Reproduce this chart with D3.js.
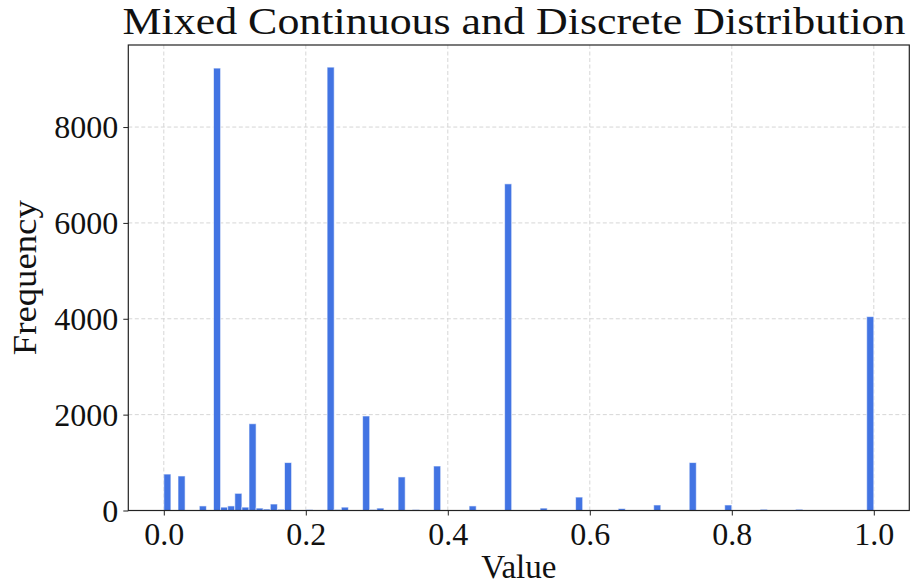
<!DOCTYPE html>
<html>
<head>
<meta charset="utf-8">
<script src="https://cdn.jsdelivr.net/npm/d3@7"></script>
<style>
  body { margin: 0; background: #fff; }
  svg { display: block; }
  text { font-family: "Liberation Serif", "DejaVu Serif", serif; fill: #111; }
</style>
</head>
<body>
<svg id="vis" width="917" height="585"></svg>
<script>
// histogram bins (lower edge, width 0.01), only the non-empty ones
var binWidth = 0.01;
var binStarts = [0.00, 0.02, 0.05, 0.07, 0.08, 0.09, 0.10, 0.11, 0.12, 0.13,
                 0.14, 0.15, 0.16, 0.17, 0.20, 0.23, 0.24, 0.25, 0.28, 0.29,
                 0.30, 0.33, 0.35, 0.38, 0.43, 0.48, 0.53, 0.58, 0.64, 0.69,
                 0.74, 0.79, 0.84, 0.89, 0.99];
var counts = [760, 720, 95, 9230, 70, 95, 358, 70, 1810, 50,
              30, 135, 25, 1000, 20, 9250, 20, 70, 1972, 20,
              50, 700, 20, 928, 95, 6815, 50, 280, 40, 115,
              1000, 115, 25, 25, 4045];
var xTicks = [0.0, 0.2, 0.4, 0.6, 0.8, 1.0];
var yTicks = [0, 2000, 4000, 6000, 8000];

var svg = d3.select("#vis");
// plot area edges (note: "top" is a reserved window property, so use padTop etc.)
var padLeft = 128.3, padRight = 909.3, padTop = 45, padBottom = 510.5;

var x = d3.scaleLinear().domain([-0.05, 1.05]).range([padLeft, padRight]);
var y = d3.scaleLinear().domain([0, 9712]).range([padBottom, padTop]);

// grid
svg.append("g").selectAll("line")
    .data(xTicks).enter().append("line")
    .attr("x1", d => x(d)).attr("x2", d => x(d))
    .attr("y1", padTop).attr("y2", padBottom)
    .attr("stroke", "#d6d6d6").attr("stroke-width", 1)
    .attr("stroke-dasharray", "4,2.5");
svg.append("g").selectAll("line")
    .data(yTicks).enter().append("line")
    .attr("x1", padLeft).attr("x2", padRight)
    .attr("y1", d => y(d)).attr("y2", d => y(d))
    .attr("stroke", "#d6d6d6").attr("stroke-width", 1)
    .attr("stroke-dasharray", "4,2.5");

// bars
svg.append("g").selectAll("rect")
    .data(binStarts).enter().append("rect")
    .attr("x", d => x(d))
    .attr("width", d => x(d + binWidth) - x(d))
    .attr("y", (d, i) => y(counts[i]))
    .attr("height", (d, i) => y(0) - y(counts[i]))
    .attr("fill", "#4274e3")
    .attr("stroke", "#ffffff").attr("stroke-opacity", 0.6)
    .attr("stroke-width", 1);

// axes
var xAxis = d3.axisBottom(x).tickValues(xTicks).tickFormat(d3.format(".1f"))
    .tickSize(5).tickPadding(6);
var yAxis = d3.axisLeft(y).tickValues(yTicks).tickFormat(d => d)
    .tickSize(5).tickPadding(5);

var gx = svg.append("g").attr("transform", "translate(0," + padBottom + ")").call(xAxis);
var gy = svg.append("g").attr("transform", "translate(" + padLeft + ",0)").call(yAxis);
[gx, gy].forEach(function(g) {
    g.select(".domain").remove();
    g.selectAll(".tick line").attr("stroke", "#222").attr("stroke-width", 1);
    g.selectAll(".tick text").attr("font-size", 32).attr("fill", "#111")
        .attr("font-family", "Liberation Serif, serif");
});
gy.selectAll(".tick text").attr("dy", "0.34em");
gx.selectAll(".tick text").attr("dy", "0.72em");

// frame
svg.append("rect")
    .attr("x", padLeft).attr("y", padTop)
    .attr("width", padRight - padLeft).attr("height", padBottom - padTop)
    .attr("fill", "none").attr("stroke", "#222").attr("stroke-width", 1.2);

// labels
svg.append("text")
    .attr("x", 514).attr("y", 34)
    .attr("text-anchor", "middle")
    .attr("font-size", 38)
    .attr("textLength", 783).attr("lengthAdjust", "spacingAndGlyphs")
    .text("Mixed Continuous and Discrete Distribution");

svg.append("text")
    .attr("x", (padLeft + padRight) / 2).attr("y", 578)
    .attr("text-anchor", "middle")
    .attr("font-size", 33)
    .text("Value");

svg.append("text")
    .attr("transform", "translate(36," + ((padTop + padBottom) / 2) + ") rotate(-90)")
    .attr("text-anchor", "middle")
    .attr("font-size", 34)
    .attr("textLength", 155).attr("lengthAdjust", "spacingAndGlyphs")
    .text("Frequency");
</script>
</body>
</html>
